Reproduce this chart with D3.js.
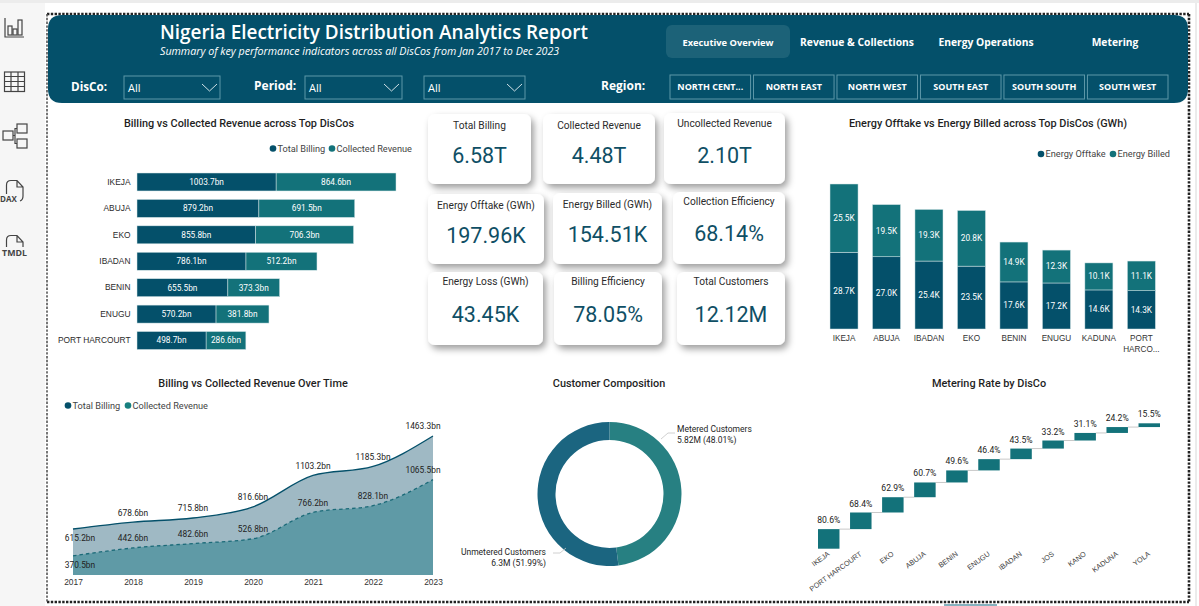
<!DOCTYPE html>
<html>
<head>
<meta charset="utf-8">
<title>Nigeria Electricity Distribution Analytics Report</title>
<script src="https://cdn.jsdelivr.net/npm/d3@7"></script>
<style>
body { margin: 0; background: #fff; overflow: hidden; }
svg { display: block; font-family: Roboto, "Open Sans", sans-serif; }
.axis path { display: none; }
.axis line { display: none; }
</style>
</head>
<body>
<div id="svg"></div>
<script>

// ---- data ----
var tabs = ["Executive Overview", "Revenue & Collections", "Energy Operations", "Metering"];
var regions = ["NORTH CENT...", "NORTH EAST", "NORTH WEST", "SOUTH EAST", "SOUTH SOUTH", "SOUTH WEST"];

var rev_discos = ["IKEJA", "ABUJA", "EKO", "IBADAN", "BENIN", "ENUGU", "PORT HARCOURT"];
var rev_billing = [1003.7, 879.2, 855.8, 786.1, 655.5, 570.2, 498.7];
var rev_collected = [864.6, 691.5, 706.3, 512.2, 373.3, 381.8, 286.6];

var kpi_titles = ["Total Billing", "Collected Revenue", "Uncollected Revenue",
                  "Energy Offtake (GWh)", "Energy Billed (GWh)", "Collection Efficiency",
                  "Energy Loss (GWh)", "Billing Efficiency", "Total Customers"];
var kpi_values = ["6.58T", "4.48T", "2.10T", "197.96K", "154.51K", "68.14%", "43.45K", "78.05%", "12.12M"];

var energy_discos = ["IKEJA", "ABUJA", "IBADAN", "EKO", "BENIN", "ENUGU", "KADUNA", "PORT HARCO..."];
var energy_offtake = [28.7, 27.0, 25.4, 23.5, 17.6, 17.2, 14.6, 14.3];
var energy_billed = [25.5, 19.5, 19.3, 20.8, 14.9, 12.3, 10.1, 11.1];

var years = [2017, 2018, 2019, 2020, 2021, 2022, 2023];
var time_billing = [615.2, 678.6, 715.8, 816.6, 1103.2, 1185.3, 1463.3];
var time_collected = [370.5, 442.6, 482.6, 526.8, 766.2, 828.1, 1065.5];

var customer_names = ["Metered Customers", "Unmetered Customers"];
var customer_labels = ["5.82M (48.01%)", "6.3M (51.99%)"];
var customer_shares = [48.01, 51.99];

var meter_discos = ["IKEJA", "PORT HARCOURT", "EKO", "ABUJA", "BENIN", "ENUGU", "IBADAN", "JOS", "KANO", "KADUNA", "YOLA"];
var meter_rates = [80.6, 68.4, 62.9, 60.7, 49.6, 46.4, 43.5, 33.2, 31.1, 24.2, 15.5];


// ---- colours ----
var col_dark = "#04506a";
var col_teal = "#13727a";
var col_txt = "#252525";
var col_kpi = "#0f4f65";
var head_font = '"Open Sans", sans-serif';


var svg = d3.select("#svg").append("svg")
    .attr("width", 1199)
    .attr("height", 606);

var defs = svg.append("defs");
var shadow = defs.append("filter")
    .attr("id", "card-shadow")
    .attr("x", "-20%").attr("y", "-20%")
    .attr("width", "150%").attr("height", "150%");
shadow.append("feDropShadow")
    .attr("dx", 3).attr("dy", 4)
    .attr("stdDeviation", 3.5)
    .attr("flood-color", "#000")
    .attr("flood-opacity", 0.38);

create_frame();
create_sidebar();
create_header();
create_revenue_bars();
create_kpis();
create_energy_bars();
create_time_areas();
create_donut();
create_metering();


function add_text(g, x, y, txt, size, opts) {
    opts = opts || {};
    return g.append("text")
        .attr("x", x)
        .attr("y", y)
        .attr("dy", "0.35em")
        .attr("text-anchor", opts.anchor || "middle")
        .attr("font-size", size)
        .attr("font-weight", opts.weight || 400)
        .attr("font-style", opts.style || "normal")
        .attr("font-family", opts.font || null)
        .attr("fill", opts.fill || col_txt)
        .text(txt);
}

function add_title(x, y, txt) {
    add_text(svg, x, y, txt, 10.9, {weight: 500, fill: "#1f1f1f"});
}

function add_legend(items) {
    items.forEach(function (d) {
        svg.append("circle")
            .attr("cx", d.x).attr("cy", d.y)
            .attr("r", 3.3)
            .attr("fill", d.col);
        add_text(svg, d.x + 4.5, d.y, d.txt, 9.2, {anchor: "start", fill: "#444"});
    });
}


/*---------------------
  ------- FRAME -------
  ---------------------*/
function create_frame() {
    svg.append("rect")
        .attr("width", 1199).attr("height", 3)
        .attr("fill", "#ececec");
    svg.append("rect")
        .attr("y", 3).attr("width", 45).attr("height", 603)
        .attr("fill", "#f6f6f6");
    svg.append("line")
        .attr("x1", 1196).attr("y1", 3).attr("x2", 1196).attr("y2", 606)
        .attr("stroke", "#d8d8d8");

    var dash = svg.append("g")
        .attr("fill", "none")
        .attr("stroke", "#222")
        .attr("stroke-width", 2.6)
        .attr("stroke-dasharray", "2.4 1.4");
    dash.append("line").attr("x1", 47).attr("y1", 14).attr("x2", 1189).attr("y2", 14);
    dash.append("line").attr("x1", 1189).attr("y1", 14).attr("x2", 1189).attr("y2", 602);
    dash.append("line").attr("x1", 47).attr("y1", 602).attr("x2", 1189).attr("y2", 602);
    dash.append("line").attr("x1", 47).attr("y1", 14).attr("x2", 47).attr("y2", 602)
        .attr("stroke", "#555")
        .attr("stroke-width", 1.6);

    svg.append("line")
        .attr("x1", 944).attr("y1", 605).attr("x2", 997).attr("y2", 605)
        .attr("stroke", "#5d97a8").attr("stroke-width", 1.5);
}


function create_sidebar() {
    var g = svg.append("g")
        .attr("fill", "none")
        .attr("stroke", "#444")
        .attr("stroke-width", 1.2);

    // report view
    g.append("path").attr("d", "M5 18V37H24");
    [[8, 26], [13, 29], [18, 20]].forEach(function (b) {
        g.append("rect")
            .attr("x", b[0]).attr("y", b[1])
            .attr("width", 4).attr("height", 35 - b[1]);
    });

    // table view
    g.append("rect").attr("x", 4.5).attr("y", 72).attr("width", 20).attr("height", 19.5);
    g.append("path").attr("d", "M4.5 76.5H24.5M4.5 81.5H24.5M4.5 86.5H24.5M11 72V91.5M18 72V91.5");

    // model view
    g.append("rect").attr("x", 3).attr("y", 131).attr("width", 10).attr("height", 9);
    g.append("rect").attr("x", 17).attr("y", 124).attr("width", 10).attr("height", 9);
    g.append("rect").attr("x", 17).attr("y", 139).attr("width", 10).attr("height", 9);
    g.append("path").attr("d", "M13 135.5H15V128.5H17M15 135.5V143.5H17");

    // DAX and TMDL views
    g.append("path").attr("d", "M6.5 194V185Q6.5 180.5 11 180.5H17L23 187V196Q23 200 20 201M17 180.5V187H23");
    g.append("path").attr("d", "M6.5 247V240Q6.5 235.5 11 235.5H17L23 242V247M17 235.5V242H23");
    add_text(svg, 8.5, 199, "DAX", 8, {weight: 700, fill: "#444", font: head_font});
    add_text(svg, 14.5, 253, "TMDL", 8.8, {weight: 700, fill: "#444", font: head_font});
}


/*---------------------
  ------- HEADER ------
  ---------------------*/
function create_header() {
    var hd = svg.append("g").attr("font-family", head_font);

    hd.append("path")
        .attr("d", "M62 15H1174Q1188 15 1188 29V89Q1188 103 1174 103H62Q48 103 48 89V29Q48 15 62 15Z")
        .attr("fill", col_dark);

    add_text(hd, 160, 32, "Nigeria Electricity Distribution Analytics Report", 18.9, {anchor: "start", weight: 600, fill: "#fff"});
    add_text(hd, 160, 51, "Summary of key performance indicators across all DisCos from Jan 2017 to Dec 2023", 10.7, {anchor: "start", style: "italic", fill: "#fff"});

    // page navigation
    hd.append("rect")
        .attr("x", 666).attr("y", 25)
        .attr("width", 124).attr("height", 33)
        .attr("rx", 6)
        .attr("fill", "#1c6278");
    var tab_x = d3.scalePoint().domain(tabs).range([728, 1115]);
    tabs.forEach(function (t, i) {
        add_text(hd, tab_x(t), 42.5, t, i == 0 ? 9.3 : 10.3, {weight: 700, fill: "#fff"});
    });

    // slicers
    add_text(hd, 71, 87, "DisCo:", 11.7, {anchor: "start", weight: 700, fill: "#fff"});
    add_text(hd, 254, 86, "Period:", 12, {anchor: "start", weight: 700, fill: "#fff"});
    add_text(hd, 601, 86, "Region:", 12, {anchor: "start", weight: 700, fill: "#fff"});

    [[124, 96], [305, 97], [424, 101]].forEach(function (d) {
        hd.append("rect")
            .attr("x", d[0]).attr("y", 76)
            .attr("width", d[1]).attr("height", 23)
            .attr("fill", "none")
            .attr("stroke", "#5d97a8")
            .attr("stroke-width", 1);
        add_text(hd, d[0] + 4, 88.5, "All", 11, {anchor: "start", fill: "#fff"});
        var r = d[0] + d[1];
        hd.append("path")
            .attr("d", "M" + (r - 18) + " 84L" + (r - 10.5) + " 91L" + (r - 3) + " 84")
            .attr("fill", "none")
            .attr("stroke", "#cfe0e6")
            .attr("stroke-width", 1);
    });

    var reg_x = d3.scaleBand().domain(regions).range([670, 1168]).paddingInner(0.035);
    regions.forEach(function (t) {
        hd.append("rect")
            .attr("x", reg_x(t)).attr("y", 75)
            .attr("width", reg_x.bandwidth()).attr("height", 24)
            .attr("fill", "none")
            .attr("stroke", "#5d97a8")
            .attr("stroke-width", 1);
        add_text(hd, reg_x(t) + reg_x.bandwidth() / 2, 87, t, 9, {weight: 700, fill: "#fff"});
    });
}


/*---------------------
  ----- TOP CHARTS ----
  ---------------------*/
function create_revenue_bars() {
    add_title(239, 123, "Billing vs Collected Revenue across Top DisCos");
    add_legend([{x: 273, y: 148.5, col: col_dark, txt: "Total Billing"},
                {x: 332, y: 148.5, col: col_teal, txt: "Collected Revenue"}]);

    var rows = rev_discos.map(function (d, i) {
        return {disco: d, billing: rev_billing[i], collected: rev_collected[i]};
    });
    var y = d3.scaleBand().domain(rev_discos).range([173, 349.5]).paddingInner(0.32);
    var x = d3.scaleLinear().domain([0, 1868.3]).range([137, 396]);
    var layers = d3.stack().keys(["billing", "collected"])(rows);
    var cols = [col_dark, col_teal];

    layers.forEach(function (layer, k) {
        var g = svg.append("g").attr("class", "rev-" + layer.key);
        g.selectAll("rect").data(layer).enter().append("rect")
            .attr("x", function (d) { return x(d[0]); })
            .attr("y", function (d) { return y(d.data.disco); })
            .attr("width", function (d) { return x(d[1]) - x(d[0]); })
            .attr("height", y.bandwidth())
            .attr("fill", cols[k])
            .attr("stroke", "#d5e6e8")
            .attr("stroke-width", 0.5);
        g.selectAll("text").data(layer).enter().append("text")
            .attr("x", function (d) { return (x(d[0]) + x(d[1])) / 2; })
            .attr("y", function (d) { return y(d.data.disco) + y.bandwidth() / 2; })
            .attr("dy", "0.35em")
            .attr("text-anchor", "middle")
            .attr("font-size", 8.3)
            .attr("fill", "#fff")
            .text(function (d) { return d3.format(".1f")(d[1] - d[0]) + "bn"; });
    });

    var ax = svg.append("g")
        .attr("class", "axis")
        .attr("transform", "translate(130.5,0)")
        .call(d3.axisLeft(y).tickSize(0).tickPadding(0));
    ax.selectAll("text")
        .attr("font-size", 8.4)
        .attr("font-family", "inherit")
        .attr("fill", "#2b2b2b");
}


function create_kpis() {
    // left, top, right, bottom of each card, title and value heights
    var card_x = [[428, 531], [543, 655], [664, 785], [428, 544], [553, 662], [673, 785], [428, 543], [554, 662], [677, 785]];
    var card_y = [[114, 184], [114, 184], [113, 184], [194, 264], [193, 264], [192, 264], [272, 345], [272, 345], [272, 345]];
    var title_y = [125, 125, 123, 205, 204, 201, 281, 281, 281];
    var value_y = [155, 155, 155, 235, 234, 233, 314, 314, 314];

    kpi_titles.forEach(function (t, i) {
        var g = svg.append("g").attr("class", "kpi");
        var cx = (card_x[i][0] + card_x[i][1]) / 2;
        g.append("rect")
            .attr("x", card_x[i][0]).attr("y", card_y[i][0])
            .attr("width", card_x[i][1] - card_x[i][0])
            .attr("height", card_y[i][1] - card_y[i][0])
            .attr("rx", 7)
            .attr("fill", "#fff")
            .attr("filter", "url(#card-shadow)");
        add_text(g, cx, title_y[i], t, 10.2, {fill: "#2b2b2b"});
        add_text(g, cx, value_y[i], kpi_values[i], 21.5, {weight: 400, fill: col_kpi});
    });
}


function create_energy_bars() {
    add_title(988, 123, "Energy Offtake vs Energy Billed across Top DisCos (GWh)");
    add_legend([{x: 1041, y: 154, col: col_dark, txt: "Energy Offtake"},
                {x: 1113, y: 154, col: col_teal, txt: "Energy Billed"}]);

    var rows = energy_discos.map(function (d, i) {
        return {disco: d, offtake: energy_offtake[i], billed: energy_billed[i]};
    });
    var x = d3.scaleBand().domain(energy_discos).range([830, 1155.4]).paddingInner(0.34);
    var y = d3.scaleLinear().domain([0, 54.2]).range([329, 184]);
    var layers = d3.stack().keys(["offtake", "billed"])(rows);
    var cols = [col_dark, col_teal];

    layers.forEach(function (layer, k) {
        var g = svg.append("g").attr("class", "en-" + layer.key);
        g.selectAll("rect").data(layer).enter().append("rect")
            .attr("x", function (d) { return x(d.data.disco); })
            .attr("y", function (d) { return y(d[1]); })
            .attr("width", x.bandwidth())
            .attr("height", function (d) { return y(d[0]) - y(d[1]); })
            .attr("fill", cols[k])
            .attr("stroke", "#d5e6e8")
            .attr("stroke-width", 0.5);
        g.selectAll("text").data(layer).enter().append("text")
            .attr("x", function (d) { return x(d.data.disco) + x.bandwidth() / 2; })
            .attr("y", function (d) { return (y(d[0]) + y(d[1])) / 2; })
            .attr("dy", "0.35em")
            .attr("text-anchor", "middle")
            .attr("font-size", 8.3)
            .attr("fill", "#fff")
            .text(function (d) { return d3.format(".1f")(d[1] - d[0]) + "K"; });
    });

    var ax = svg.append("g")
        .attr("class", "axis")
        .attr("transform", "translate(0,341)")
        .call(d3.axisBottom(x).tickSize(0).tickPadding(0));
    ax.selectAll("text").each(function (d) {
        var t = d3.select(this).text("")
            .attr("font-size", 8.2)
            .attr("font-family", "inherit")
            .attr("fill", "#333")
            .attr("dy", "0.71em");
        d.split(" ").forEach(function (w, i) {
            t.append("tspan")
                .attr("x", 0)
                .attr("dy", i ? "1.3em" : 0)
                .text(w);
        });
    });
}


/*---------------------
  --- BOTTOM CHARTS ---
  ---------------------*/
function create_time_areas() {
    add_title(253, 383, "Billing vs Collected Revenue Over Time");
    add_legend([{x: 68, y: 405.5, col: col_dark, txt: "Total Billing"},
                {x: 128, y: 405.5, col: "#17807f", txt: "Collected Revenue"}]);

    var x = d3.scalePoint().domain(years).range([73, 433]);
    var y = d3.scaleLinear().domain([196, 1463.3]).range([575, 436]);

    var bill = d3.area()
        .curve(d3.curveMonotoneX)
        .x(function (d, i) { return x(years[i]); })
        .y0(575)
        .y1(function (d) { return y(d); });
    var line = d3.line()
        .curve(d3.curveMonotoneX)
        .x(function (d, i) { return x(years[i]); })
        .y(function (d) { return y(d); });

    svg.append("path").datum(time_billing)
        .attr("d", bill)
        .attr("fill", "#9fb9c4");
    svg.append("path").datum(time_collected)
        .attr("d", bill)
        .attr("fill", "#5f9aa6");
    svg.append("path").datum(time_billing)
        .attr("d", line)
        .attr("fill", "none")
        .attr("stroke", col_dark)
        .attr("stroke-width", 1.3);
    svg.append("path").datum(time_collected)
        .attr("d", line)
        .attr("fill", "none")
        .attr("stroke", "#1b6a78")
        .attr("stroke-width", 1.3)
        .attr("stroke-dasharray", "3.5 3");

    function label_x(i) {
        if (i == 0) { return x(years[i]) + 7; }
        if (i == years.length - 1) { return x(years[i]) - 10; }
        return x(years[i]);
    }
    function label_y(v, i) {
        return i == 0 ? y(v) + 9.5 : y(v) - 9.5;
    }
    [time_billing, time_collected].forEach(function (serie) {
        svg.append("g").selectAll("text").data(serie).enter().append("text")
            .attr("x", function (d, i) { return label_x(i); })
            .attr("y", label_y)
            .attr("dy", "0.35em")
            .attr("text-anchor", "middle")
            .attr("font-size", 8.4)
            .attr("fill", "#222")
            .text(function (d) { return d3.format(".1f")(d) + "bn"; });
    });

    var ax = svg.append("g")
        .attr("class", "axis")
        .attr("transform", "translate(0,579)")
        .call(d3.axisBottom(x).tickSize(0).tickPadding(0).tickFormat(d3.format("d")));
    ax.selectAll("text")
        .attr("font-size", 8.4)
        .attr("font-family", "inherit")
        .attr("fill", "#333");
}


function create_donut() {
    add_title(609, 383, "Customer Composition");

    var cx = 609.5, cy = 494;
    var pie = d3.pie().sort(null);
    var arc = d3.arc().innerRadius(54).outerRadius(72);
    var cols = ["#278082", "#1b6580"];

    svg.append("g")
        .attr("transform", "translate(" + cx + "," + cy + ")")
        .selectAll("path").data(pie(customer_shares)).enter().append("path")
        .attr("d", arc)
        .attr("fill", function (d, i) { return cols[i]; });

    var lead = svg.append("g")
        .attr("fill", "none")
        .attr("stroke", "#c4c4c4")
        .attr("stroke-width", 0.8);
    lead.append("path").attr("d", "M661 439L668 433H675");
    lead.append("path").attr("d", "M553 553H560L566 548");

    add_text(svg, 677, 429, customer_names[0], 8.5, {anchor: "start"});
    add_text(svg, 677, 440, customer_labels[0], 8.5, {anchor: "start"});
    add_text(svg, 546, 552, customer_names[1], 8.5, {anchor: "end"});
    add_text(svg, 546, 563, customer_labels[1], 8.5, {anchor: "end"});
}


function create_metering() {
    add_title(989, 383, "Metering Rate by DisCo");

    var x = d3.scaleBand().domain(meter_discos).range([818, 1160]).paddingInner(0.33);
    var running = 0;
    var steps = meter_rates.map(function (v, i) {
        var s = {disco: meter_discos[i], rate: v, from: running, to: running + v};
        running += v;
        return s;
    });
    var y = d3.scaleLinear().domain([0, running]).range([548.7, 423.3]);

    svg.append("g").selectAll("line").data(steps.slice(0, -1)).enter().append("line")
        .attr("x1", function (d) { return x(d.disco) + x.bandwidth(); })
        .attr("x2", function (d) { return x(d.disco) + x.step(); })
        .attr("y1", function (d) { return y(d.to); })
        .attr("y2", function (d) { return y(d.to); })
        .attr("stroke", "#c8c8c8")
        .attr("stroke-width", 1);

    svg.append("g").selectAll("rect").data(steps).enter().append("rect")
        .attr("x", function (d) { return x(d.disco); })
        .attr("y", function (d) { return y(d.to); })
        .attr("width", x.bandwidth())
        .attr("height", function (d) { return y(d.from) - y(d.to); })
        .attr("fill", col_teal);

    svg.append("g").selectAll("text").data(steps).enter().append("text")
        .attr("x", function (d) { return x(d.disco) + x.bandwidth() / 2; })
        .attr("y", function (d) { return y(d.to) - 9; })
        .attr("dy", "0.35em")
        .attr("text-anchor", "middle")
        .attr("font-size", 8.6)
        .attr("fill", "#222")
        .text(function (d) { return d3.format(".1f")(d.rate) + "%"; });

    var ax = svg.append("g")
        .attr("class", "axis")
        .attr("transform", "translate(0,553)")
        .call(d3.axisBottom(x).tickSize(0).tickPadding(0));
    ax.selectAll("text")
        .attr("font-size", 7.2)
        .attr("font-family", "inherit")
        .attr("fill", "#444")
        .attr("text-anchor", "end")
        .attr("dy", "0.35em")
        .attr("y", 0)
        .attr("transform", "rotate(-36)");
}

</script>
</body>
</html>
